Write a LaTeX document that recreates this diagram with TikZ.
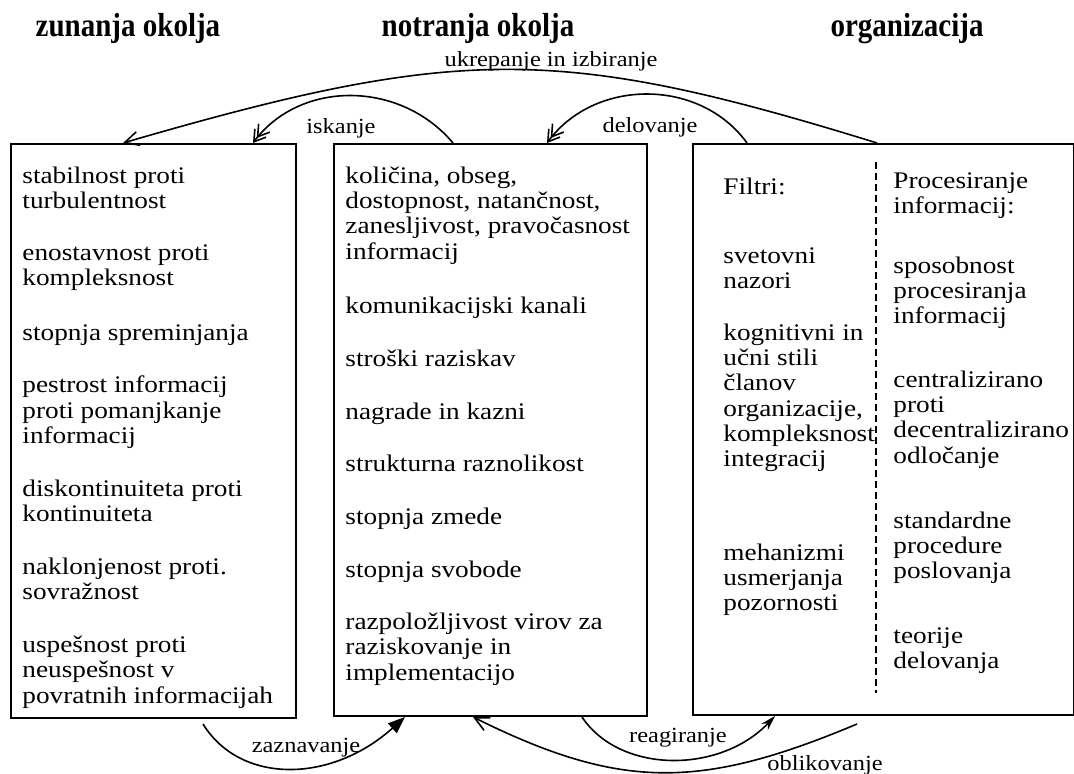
\documentclass[tikz,border=0pt]{standalone}
\usepackage{fontspec}
\setmainfont{Liberation Serif}
\usetikzlibrary{arrows.meta,calc}

% type sizes
\newcommand\bodysize{\fontsize{11.9pt}{12.65pt}\selectfont}
\newcommand\labelsize{\fontsize{10.8pt}{11pt}\selectfont}
\newcommand\headsize{\fontsize{14.5pt}{16pt}\selectfont\bfseries}

\begin{document}
\begin{tikzpicture}[x=0.5pt,y=-0.5pt,
  panel/.style={draw, line width=1pt, anchor=north west, inner sep=0pt},
  item/.style={anchor=north west, inner sep=0pt, align=left, font=\bodysize,
    yshift=8.855pt, xscale=1.145, transform shape, execute at begin node=\strut},
  head/.style={anchor=base, inner sep=0pt, font=\headsize, yscale=1.15, transform shape},
  flowlabel/.style={anchor=base, inner sep=0pt, font=\labelsize, xscale=1.13, transform shape},
  flow/.style={line width=0.8pt},
  barb/.style={-{Straight Barb[length=7pt,width=7pt]}},
  dbarb/.style={-{Straight Barb[length=5.5pt,width=7pt,sep=-3.5pt]Straight Barb[length=5.5pt,width=7pt]}},
  solidtip/.style={-{Triangle[length=8.5pt,width=6.5pt]}},
  slimtip/.style={-{Stealth[length=7.5pt,width=4.5pt]}},
  divider/.style={line width=0.8pt, dash pattern=on 3.5pt off 2pt}
]
\useasboundingbox (0,0) rectangle (1074,774);

% column headings
\node[head] (hExt) at (128,37) {zunanja okolja};
\node[head] (hInt) at (478,37) {notranja okolja};
\node[head] (hOrg) at (907,37) {organizacija};

% the three panels
\node[panel, minimum width=142.5pt, minimum height=287pt] (ext) at (10,143) {};
\node[panel, minimum width=156.5pt, minimum height=286pt] (int) at (333,143) {};
\node[panel, minimum width=190.5pt, minimum height=285.5pt] (org) at (692,143) {};

% divider inside the organisation panel
\coordinate (divT) at ($(org.north west)+(184,19)$);
\coordinate (divB) at ($(org.north west)+(184,550)$);
\draw[divider] (divT) -- (divB);

% external environment
\node[item] (e1) at (22,184)   {stabilnost proti\\turbulentnost};
\node[item] (e2) at (22,262.2) {enostavnost proti\\kompleksnost};
\node[item] (e3) at (22,340.4) {stopnja spreminjanja};
\node[item] (e4) at (22,393.3) {pestrost informacij\\proti pomanjkanje\\informacij};
\node[item] (e5) at (22,496.8) {diskontinuiteta proti\\kontinuiteta};
\node[item] (e6) at (22,575.0) {naklonjenost proti.\\sovražnost};
\node[item] (e7) at (22,653.2) {uspešnost proti\\neuspešnost v\\povratnih informacijah};

% internal environment
\node[item] (n1) at (345,184)   {količina, obseg,\\dostopnost, natančnost,\\zanesljivost, pravočasnost\\informacij};
\node[item] (n2) at (345,312.8) {komunikacijski kanali};
\node[item] (n3) at (345,365.7) {stroški raziskav};
\node[item] (n4) at (345,418.6) {nagrade in kazni};
\node[item] (n5) at (345,471.5) {strukturna raznolikost};
\node[item] (n6) at (345,524.4) {stopnja zmede};
\node[item] (n7) at (345,577.3) {stopnja svobode};
\node[item] (n8) at (345,630.2) {razpoložljivost virov za\\raziskovanje in\\implementacijo};

% organisation: filters
\node[item] (f0) at (723,194) {Filtri:};
\node[item] (f1) at (723,265) {svetovni\\nazori};
\node[item] (f2) at (723,341) {kognitivni in\\učni stili\\članov\\organizacije,\\kompleksnost\\integracij};
\node[item] (f3) at (723,561) {mehanizmi\\usmerjanja\\pozornosti};

% organisation: information processing
\node[item] (p0) at (893,190) {Procesiranje\\informacij:};
\node[item] (p1) at (893,274) {sposobnost\\procesiranja\\informacij};
\node[item] (p2) at (893,388) {centralizirano\\proti\\decentralizirano\\odločanje};
\node[item] (p3) at (893,529) {standardne\\procedure\\poslovanja};
\node[item] (p4) at (893,645) {teorije\\delovanja};

% connector end points on the panels
\coordinate (ukS) at ($(org.north west)+(185,0)$);
\coordinate (ukE) at ($(ext.north west)+(113,0)$);
\coordinate (isS) at ($(int.north west)+(120,0)$);
\coordinate (isE) at ($(ext.north west)+(243,0)$);
\coordinate (deS) at ($(org.north west)+(55,0)$);
\coordinate (deE) at ($(int.north west)+(214,0)$);
\coordinate (zaS) at ($(ext.south west)+(193,5)$);
\coordinate (zaE) at ($(int.south west)+(72,0)$);
\coordinate (reS) at ($(int.south west)+(249,0)$);
\coordinate (reE) at ($(org.south west)+(83,0)$);
\coordinate (obS) at ($(org.south west)+(165,8)$);
\coordinate (obE) at ($(int.south west)+(140,0)$);

% flows across the top
\draw[flow, barb]  (ukS) .. controls (560,45) and (460,45) .. (ukE);
\draw[flow, dbarb] (isS) .. controls (400,80) and (300,80) .. (isE);
\draw[flow, dbarb] (deS) .. controls (700,78) and (595,78) .. (deE);

% flows across the bottom
\draw[flow, solidtip] (zaS) .. controls (240,784) and (330,784) .. (zaE);
\draw[flow, slimtip]  (reS) .. controls (620,774) and (720,774) .. (reE);
\draw[flow, barb]     (obS) .. controls (700,790) and (620,790) .. (obE);

% flow labels
\node[flowlabel] (lUk) at (551,67)  {ukrepanje in izbiranje};
\node[flowlabel] (lIs) at (341,134) {iskanje};
\node[flowlabel] (lDe) at (650,133) {delovanje};
\node[flowlabel] (lZa) at (306,752) {zaznavanje};
\node[flowlabel] (lRe) at (678,742) {reagiranje};
\node[flowlabel] (lOb) at (825,770) {oblikovanje};
\end{tikzpicture}
\end{document}
